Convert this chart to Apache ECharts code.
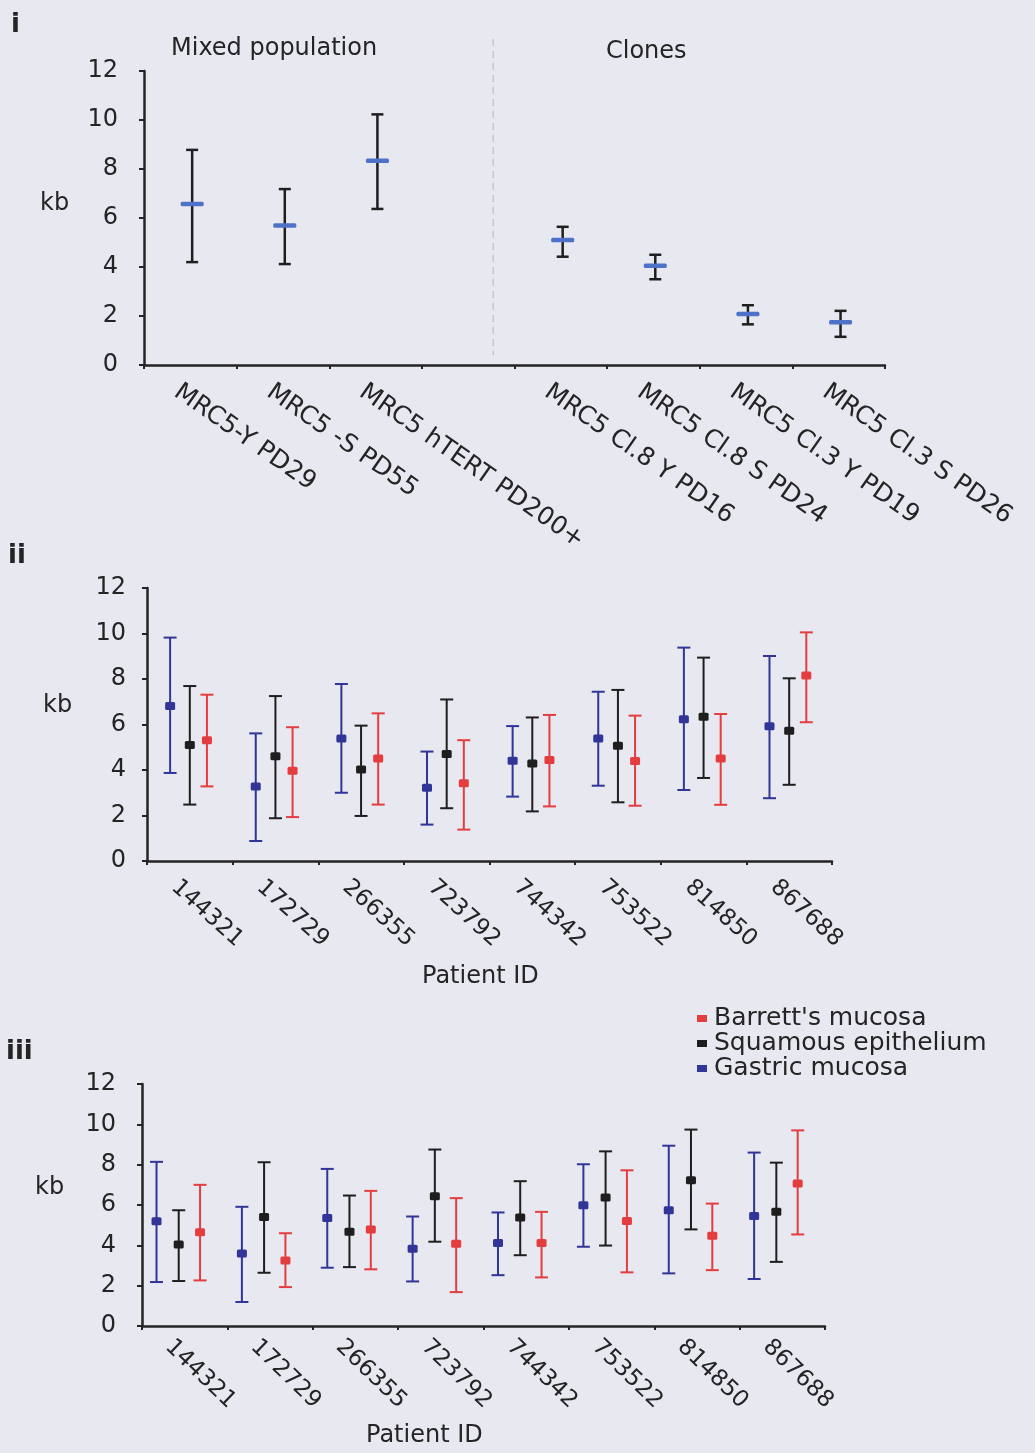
<!DOCTYPE html>
<html>
<head>
<meta charset="utf-8">
<title>Telomere length</title>
<script src="https://cdn.jsdelivr.net/npm/echarts@6/dist/echarts.min.js"></script>
<style>
  html, body { margin: 0; padding: 0; background: #e8e8f1; }
  #chart { width: 1035px; height: 1453px; }
</style>
</head>
<body>
<div id="chart"></div>
<script>
// ---- Panel i: MRC5 cultures (mean telomere length with range, kb) ----
const cellLines = ['MRC5-Y PD29', 'MRC5 -S PD55', 'MRC5 hTERT PD200+', '',
  'MRC5 Cl.8 Y PD16', 'MRC5 Cl.8 S PD24', 'MRC5 Cl.3 Y PD19', 'MRC5 Cl.3 S PD26'];
const cellMean = [6.57, 5.69, 8.34, null, 5.10, 4.05, 2.08, 1.75];
const cellLow  = [4.20, 4.12, 6.37, null, 4.42, 3.50, 1.66, 1.15];
const cellHigh = [8.78, 7.18, 10.23, null, 5.64, 4.50, 2.44, 2.21];

// ---- Patients (panels ii and iii) ----
const patientIds = ['144321', '172729', '266355', '723792', '744342', '753522', '814850', '867688'];

// Panel ii
const iiGastricMean = [6.81, 3.28, 5.39, 3.22, 4.41, 5.39, 6.23, 5.92];
const iiGastricLow  = [3.87, 0.88, 3.00, 1.60, 2.83, 3.31, 3.12, 2.76];
const iiGastricHigh = [9.82, 5.61, 7.78, 4.81, 5.93, 7.44, 9.38, 9.01];
const iiSquamousMean = [5.10, 4.60, 4.02, 4.70, 4.29, 5.07, 6.34, 5.73];
const iiSquamousLow  = [2.48, 1.88, 1.98, 2.32, 2.18, 2.58, 3.65, 3.35];
const iiSquamousHigh = [7.69, 7.25, 5.95, 7.10, 6.31, 7.52, 8.94, 8.03];
const iiBarrettMean = [5.31, 3.97, 4.51, 3.42, 4.44, 4.40, 4.51, 8.15];
const iiBarrettLow  = [3.28, 1.93, 2.48, 1.38, 2.40, 2.43, 2.47, 6.10];
const iiBarrettHigh = [7.31, 5.88, 6.49, 5.31, 6.42, 6.39, 6.46, 10.05];

// Panel iii
const iiiGastricMean = [5.20, 3.60, 5.35, 3.83, 4.11, 5.99, 5.74, 5.45];
const iiiGastricLow  = [2.18, 1.19, 2.89, 2.21, 2.52, 3.93, 2.61, 2.33];
const iiiGastricHigh = [8.14, 5.91, 7.79, 5.43, 5.63, 8.02, 8.94, 8.60];
const iiiSquamousMean = [4.04, 5.40, 4.67, 6.44, 5.38, 6.37, 7.23, 5.66];
const iiiSquamousLow  = [2.23, 2.64, 2.92, 4.18, 3.51, 3.99, 4.79, 3.18];
const iiiSquamousHigh = [5.74, 8.12, 6.47, 8.75, 7.18, 8.66, 9.74, 8.10];
const iiiBarrettMean = [4.65, 3.25, 4.79, 4.08, 4.12, 5.21, 4.47, 7.06];
const iiiBarrettLow  = [2.26, 1.93, 2.81, 1.68, 2.41, 2.66, 2.77, 4.54];
const iiiBarrettHigh = [7.00, 4.60, 6.70, 6.34, 5.66, 7.72, 6.07, 9.70];

const yTicks = { min: 0, max: 12, interval: 2 };
const tissueNames = ["Barrett's mucosa", 'Squamous epithelium', 'Gastric mucosa'];

// ---- styling ----
const FONT = "'DejaVu Sans', 'Liberation Sans', sans-serif";
const INK = '#242424';
const RED = '#e43d3f';
const BLACK = '#1e1e1e';
const BLUE = '#303597';
const MEAN_BAR = '#4f72c9';

// dashed separator between mixed populations and clones (category units)
const dividerAt = 3.27, dividerTop = 13.3, dividerBottom = 0.4;

function toItems(mean, low, high) {
  const out = [];
  mean.forEach((m, i) => { if (m != null) out.push([i, m, low[i], high[i]]); });
  return out;
}

function errorBars(offset, color, barColor, markW, markH, capW, lineW) {
  return function (params, api) {
    const idx = api.value(0);
    const band = api.size([1, 0])[0];
    const c = api.coord([idx, api.value(1)]);
    const x = c[0] + offset * band;
    const yLo = api.coord([idx, api.value(2)])[1];
    const yHi = api.coord([idx, api.value(3)])[1];
    const ls = { stroke: color, lineWidth: lineW };
    return {
      type: 'group',
      children: [
        { type: 'line', shape: { x1: x, y1: yHi, x2: x, y2: yLo }, style: ls },
        { type: 'line', shape: { x1: x - capW / 2, y1: yHi, x2: x + capW / 2, y2: yHi }, style: ls },
        { type: 'line', shape: { x1: x - capW / 2, y1: yLo, x2: x + capW / 2, y2: yLo }, style: ls },
        { type: 'rect', shape: { x: x - markW / 2, y: c[1] - markH / 2, width: markW, height: markH, r: 1.5 },
          style: { fill: barColor } }
      ]
    };
  };
}

function valueAxis(gridIndex, margin) {
  return {
    type: 'value', gridIndex, min: yTicks.min, max: yTicks.max, interval: yTicks.interval,
    axisLine: { show: true, lineStyle: { color: INK, width: 2.5 } },
    axisTick: { show: true, length: 5, lineStyle: { color: INK, width: 2 } },
    splitLine: { show: false },
    axisLabel: { color: INK, fontFamily: FONT, fontSize: 24, margin }
  };
}

function categoryAxis(gridIndex, data, rotate, lineHeight, margin, fontSize) {
  return {
    type: 'category', gridIndex, data, boundaryGap: true,
    axisLine: { lineStyle: { color: INK, width: 2.5 } },
    axisTick: { show: true, length: 4, lineStyle: { color: INK, width: 2 } },
    splitLine: { show: false },
    axisLabel: {
      interval: 0, rotate, align: 'left', verticalAlign: 'top', lineHeight, margin,
      color: INK, fontFamily: FONT, fontSize
    }
  };
}

function text(str, left, top, size, bold) {
  return {
    text: str, left, top, padding: 0,
    textStyle: { color: INK, fontFamily: FONT, fontSize: size, fontWeight: bold ? 'bold' : 'normal', lineHeight: size }
  };
}

function tissueSeries(name, grid, color, offset, mean, low, high) {
  return {
    type: 'custom', name, xAxisIndex: grid, yAxisIndex: grid,
    itemStyle: { color },
    encode: { x: 0, y: 1 },
    data: toItems(mean, low, high),
    renderItem: errorBars(offset, color, color, 10, 8, 13, 2)
  };
}

const chart = echarts.init(document.getElementById('chart'), null, { renderer: 'canvas' });

chart.setOption({
  backgroundColor: '#e8e8f1',
  animation: false,
  title: [
    text('i', 11, 12, 26, true),
    text('ii', 8, 543, 26, true),
    text('iii', 6, 1039, 26, true),
    text('Mixed population', 171, 37, 24),
    text('Clones', 606, 40, 24),
    text('kb', 40, 192, 24),
    text('kb', 43, 694, 24),
    text('kb', 35, 1176, 24),
    text('Patient ID', 422, 965, 24),
    text('Patient ID', 366, 1424, 24)
  ],
  legend: {
    data: tissueNames,
    orient: 'vertical', left: 692, top: 1001,
    icon: 'rect', itemWidth: 10, itemHeight: 7, itemGap: 0,
    selectedMode: false,
    textStyle: { color: INK, fontFamily: FONT, fontSize: 25, lineHeight: 23, padding: [0, 0, 0, 2] }
  },
  grid: [
    { left: 144, top: 71, width: 741, height: 294 },
    { left: 147, top: 588, width: 685, height: 273 },
    { left: 142, top: 1084, width: 683, height: 242 }
  ],
  xAxis: [
    categoryAxis(0, cellLines, -35, 48, 5, 25),
    categoryAxis(1, patientIds, -42, 46, 6, 23),
    categoryAxis(2, patientIds, -44, 46, 1, 23)
  ],
  yAxis: [valueAxis(0, 26), valueAxis(1, 21), valueAxis(2, 26)],
  series: [
    {
      type: 'custom', name: 'divider', xAxisIndex: 0, yAxisIndex: 0,
      encode: { x: 0, y: 1 }, data: [[3, 0]], silent: true,
      renderItem: function (params, api) {
        const band = api.size([1, 0])[0];
        const x = api.coord([3, 0])[0] + (dividerAt - 3) * band;
        return {
          type: 'line',
          shape: { x1: x, y1: api.coord([3, dividerTop])[1], x2: x, y2: api.coord([3, dividerBottom])[1] },
          style: { stroke: '#b4b4c0', lineWidth: 1, lineDash: [7, 5] }
        };
      }
    },
    {
      type: 'custom', name: 'MRC5', xAxisIndex: 0, yAxisIndex: 0,
      encode: { x: 0, y: 1 },
      data: toItems(cellMean, cellLow, cellHigh),
      renderItem: errorBars(0.02, BLACK, MEAN_BAR, 23, 4.5, 12, 2.5)
    },
    tissueSeries(tissueNames[2], 1, BLUE, -0.23, iiGastricMean, iiGastricLow, iiGastricHigh),
    tissueSeries(tissueNames[1], 1, BLACK, 0.0, iiSquamousMean, iiSquamousLow, iiSquamousHigh),
    tissueSeries(tissueNames[0], 1, RED, 0.2, iiBarrettMean, iiBarrettLow, iiBarrettHigh),
    tissueSeries(tissueNames[2], 2, BLUE, -0.33, iiiGastricMean, iiiGastricLow, iiiGastricHigh),
    tissueSeries(tissueNames[1], 2, BLACK, -0.07, iiiSquamousMean, iiiSquamousLow, iiiSquamousHigh),
    tissueSeries(tissueNames[0], 2, RED, 0.18, iiiBarrettMean, iiiBarrettLow, iiiBarrettHigh)
  ]
});
</script>
</body>
</html>
